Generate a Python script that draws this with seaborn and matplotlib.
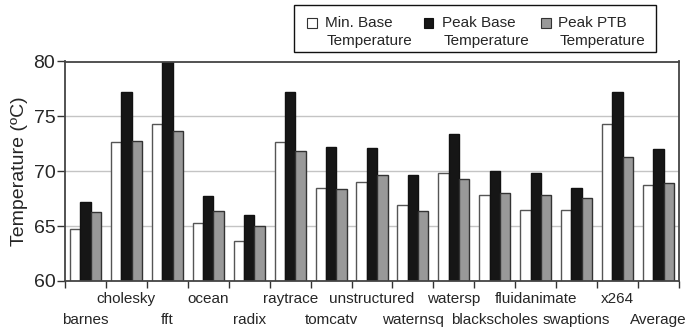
import numpy as np
import pandas as pd
import matplotlib
matplotlib.use("Agg")
import matplotlib.pyplot as plt
from matplotlib.patches import Rectangle
import seaborn as sns

categories = ["barnes", "cholesky", "fft", "ocean", "radix", "raytrace", "tomcatv",
              "unstructured", "waternsq", "watersp", "blackscholes", "fluidanimate",
              "swaptions", "x264", "Average"]
min_base = [64.7, 72.7, 74.3, 65.3, 63.6, 72.7, 68.5, 69.0, 66.9, 69.8, 67.8, 66.45, 66.45, 74.35, 68.75]
peak_base = [67.2, 77.2, 80.0, 67.75, 66.0, 77.2, 72.25, 72.1, 69.7, 73.4, 70.0, 69.85, 68.5, 77.2, 72.0]
peak_ptb = [66.3, 72.75, 73.7, 66.4, 65.0, 71.85, 68.4, 69.7, 66.4, 69.3, 68.05, 67.8, 67.6, 71.3, 68.9]
series_names = ["Min. Base\nTemperature", "Peak Base\nTemperature", "Peak PTB\nTemperature"]
y_ticks = [60, 65, 70, 75, 80]

fills = ["#ffffff", "#161616", "#999999"]
edges = ["#555555", "#111111", "#333333"]

rows = []
for name, vals in zip(series_names, [min_base, peak_base, peak_ptb]):
    for c, v in zip(categories, vals):
        rows.append({"benchmark": c, "temp": v, "series": name})
df = pd.DataFrame(rows)

sns.set_style("white")
plt.rcParams["font.family"] = ["Liberation Sans", "DejaVu Sans"]

W, H = 687, 330
fig = plt.figure(figsize=(W / 100, H / 100), dpi=100)
ax = fig.add_axes([65 / W, 1 - 281 / H, 614 / W, 219.5 / H])

sns.barplot(data=df, x="benchmark", y="temp", hue="series", order=categories,
            hue_order=series_names, palette=fills, width=0.76, gap=0,
            linewidth=1.0, legend=False, ax=ax, errorbar=None)

for cont, ec in zip(ax.containers, edges):
    for p in cont:
        p.set_edgecolor(ec)
        p.set_linewidth(1.0)

ax.set_ylim(60, 80)
ax.set_xlim(-0.5, len(categories) - 0.5)
ax.set_yticks(y_ticks)
ax.set_yticklabels([str(t) for t in y_ticks], fontsize=14)
ax.yaxis.grid(True, color="#c4c4c4", linewidth=1.0)
ax.set_axisbelow(True)

# staggered category labels: odd indices on the upper row, even on the lower row
odd_pos = list(range(1, len(categories), 2))
even_pos = list(range(0, len(categories), 2))
ax.set_xticks(odd_pos)
ax.set_xticklabels([categories[i] for i in odd_pos], fontsize=11)
ax.tick_params(axis="x", which="major", length=0, pad=8)
ax.set_xticks(np.arange(-0.5, len(categories), 1.0), minor=True)
ax.tick_params(axis="x", which="minor", length=5, width=1.0, color="#333333", direction="out", bottom=True)
ax.tick_params(axis="y", which="major", length=6, width=1.0, color="#333333", direction="out", left=True, pad=1)

sec = ax.secondary_xaxis("bottom")
sec.set_xticks(even_pos)
sec.set_xticklabels([categories[i] for i in even_pos], fontsize=11)
sec.tick_params(axis="x", length=0, pad=23)
sec.spines["bottom"].set_visible(False)

ax.set_xlabel("")
ax.set_ylabel("Temperature (ºC)", fontsize=14, labelpad=4)

for s in ax.spines.values():
    s.set_visible(True)
    s.set_color("#444444")
    s.set_linewidth(1.3)

# legend drawn in figure pixel coordinates
def fx(px):
    return px / W

def fy(py):
    return 1 - py / H

fig.patches.append(Rectangle((fx(293.5), fy(52)), fx(656) - fx(293.5), fy(5) - fy(52),
                             transform=fig.transFigure, facecolor="white",
                             edgecolor="#111111", linewidth=1.0, zorder=5))
marker_x = [307, 423.5, 541]
text_x = [325, 442, 558]
marker_edges = ["#333333", "#111111", "#333333"]
for name, f, e, mx, tx in zip(series_names, fills, marker_edges, marker_x, text_x):
    fig.patches.append(Rectangle((fx(mx), fy(27.5)), fx(9.5), 9.5 / H,
                                 transform=fig.transFigure, facecolor=f,
                                 edgecolor=e, linewidth=0.8, zorder=6))
    l1, l2 = name.split("\n")
    fig.text(fx(tx), fy(27.3), l1, fontsize=11, va="baseline", ha="left", zorder=7)
    fig.text(fx(tx + 1.5), fy(45), l2, fontsize=11, va="baseline", ha="left", zorder=7)

fig.savefig("out.png", dpi=100)
